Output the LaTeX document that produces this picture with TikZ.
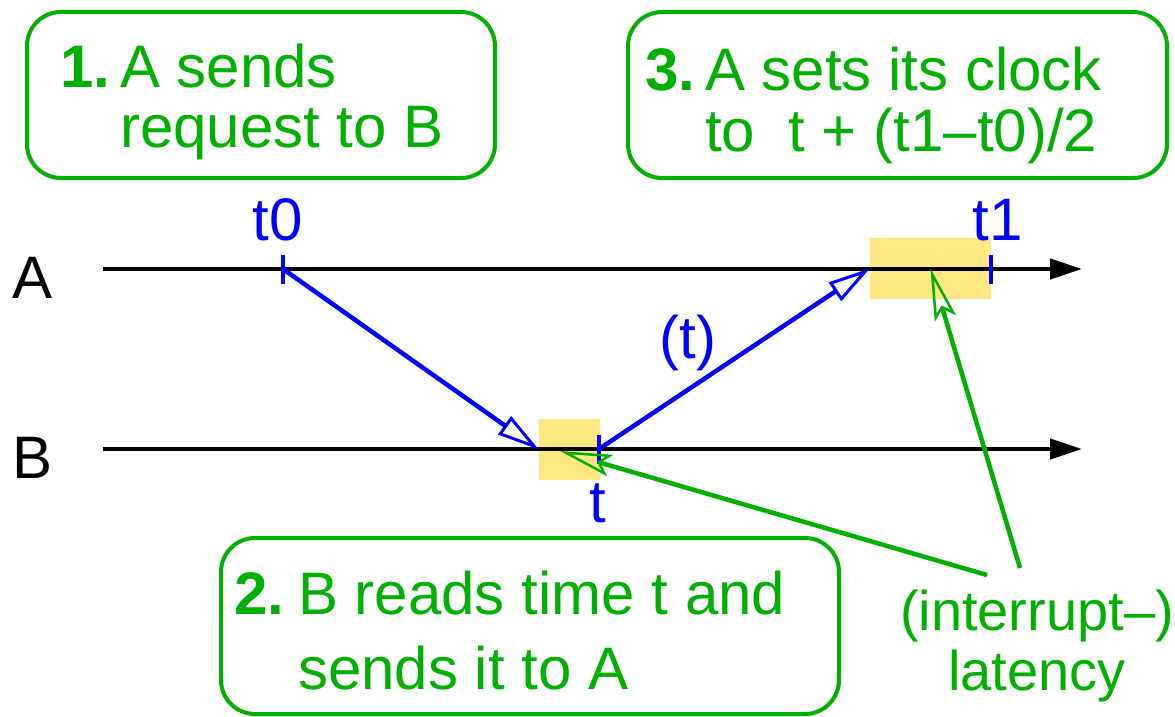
\documentclass[tikz,border=0pt]{standalone}
\usepackage{fontspec}
\setmainfont{Liberation Sans}
\usetikzlibrary{arrows.meta, positioning}
\definecolor{NoteGreen}{HTML}{00B000}
\definecolor{MsgBlue}{HTML}{0000FF}
\definecolor{WaitYellow}{HTML}{FFE882}
\newcommand{\notefont}{\fontsize{60}{60}\selectfont}

\begin{document}
\begin{tikzpicture}[
        x=1pt, y=-1pt,
        notebox/.style={rectangle, draw=NoteGreen, line width=4pt, rounded corners=34pt},
        notetext/.style={anchor=base west, inner sep=0pt, text=NoteGreen, font=\notefont},
        lbl/.style={inner sep=0pt, font=\notefont},
        tlbl/.style={lbl, anchor=base, text=MsgBlue},
        waitbox/.style={rectangle, fill=WaitYellow, inner sep=0pt},
        timeline/.style={line width=4.5pt, black, -{Triangle[length=32pt, width=20pt]}},
        msg/.style={line width=4.5pt, MsgBlue, -{Triangle[open, length=42pt, width=22pt, line width=3pt]}},
        tick/.style={line width=4.5pt, MsgBlue},
        note/.style={line width=4.5pt, NoteGreen, -{Stealth[open, length=52pt, width=22pt, inset=10pt, line width=2.5pt]}}
      ]
        \useasboundingbox (0,0) rectangle (1175,717);

        % waiting periods
        \node[waitbox, minimum width=121pt, minimum height=61pt] (waitA) at (930.5,268.5) {};
        \node[waitbox, minimum width=61pt, minimum height=61pt] (waitB) at (569.5,449.5) {};

        % time lines
        \node[lbl] (labA) at (33,278) {A};
        \node[lbl] (labB) at (33,458) {B};
        \coordinate (Astart) at (103,269);
        \coordinate (Aend) at (1082,269);
        \coordinate (Bstart) at (103,449);
        \coordinate (Bend) at (1082,449);
        \draw[timeline] (Astart) -- (Aend);
        \draw[timeline] (Bstart) -- (Bend);

        % time stamps
        \coordinate (t0) at (283,269);
        \coordinate (t1) at (991,269);
        \coordinate (tB) at (599,449);
        \draw[tick] ([yshift=-15pt]t0) -- ([yshift=14pt]t0);
        \draw[tick] ([yshift=-15pt]t1) -- ([yshift=14pt]t1);
        \draw[tick] ([yshift=-15pt]tB) -- ([yshift=14pt]tB);
        \node[tlbl] (labt0) at (278,240) {t0};
        \node[tlbl] (labt1) at (998,240) {t1};
        \node[tlbl] (labt) at (598,522) {t};
        \node[tlbl] (labtt) at (688,358) {(t)};

        % messages
        \draw[msg] (t0) -- (waitB.west);
        \draw[msg] (tB) -- (waitA.west);

        % notes
        \node[notebox, minimum width=468pt, minimum height=166pt] (note1) at (261,95) {};
        \node[notetext] (txt1) at (60,88) {\begin{tabular}[t]{@{}l@{\hspace{10pt}}l@{}}\textbf{1.} & A sends\\ & request to B\end{tabular}};
        \node[notebox, minimum width=539pt, minimum height=166pt] (note3) at (897.5,95) {};
        \node[notetext] (txt3) at (645,90) {\begin{tabular}[t]{@{}l@{\hspace{10pt}}l@{}}\textbf{3.} & A sets its clock\\ & to\ \ t + (t1–t0)/2\end{tabular}};
        \node[notebox, minimum width=618pt, minimum height=176pt] (note2) at (530,626) {};
        \node[notetext, font=\fontsize{60}{75}\selectfont] (txt2) at (234,614) {\begin{tabular}[t]{@{}l@{\hspace{14pt}}l@{}}\textbf{2.} & B reads time t and\\ & sends it to A\end{tabular}};

        % latency pointers
        \node[lbl, font=\fontsize{56}{60}\selectfont, text=NoteGreen, align=center, anchor=base] (lat) at (1037,690) {(interrupt–)\\latency};
        \coordinate (latL) at (987,575);
        \coordinate (latR) at (1020,568);
        \coordinate (latB) at (560,451);
        \draw[note] (latL) -- (latB);
        \draw[note] (latR) -- (waitA.center);
      \end{tikzpicture}
\end{document}
